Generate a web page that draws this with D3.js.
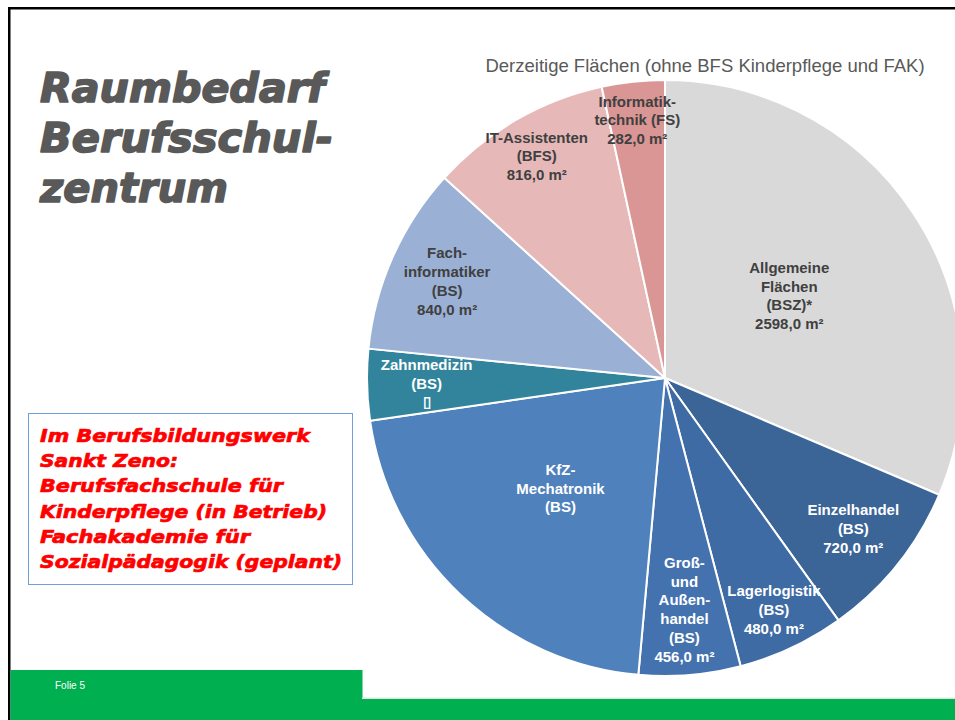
<!DOCTYPE html>
<html>
<head>
<meta charset="utf-8">
<script src="https://cdn.jsdelivr.net/npm/d3@7"></script>
<style>
  body { margin: 0; background: #fff; }
  svg { display: block; }
</style>
</head>
<body>
<div id="chart"></div>
<script>
const categories = [
  "Allgemeine Flächen (BSZ)*", "Einzelhandel (BS)", "Lagerlogistik (BS)",
  "Groß- und Außenhandel (BS)", "KfZ-Mechatronik (BS)", "Zahnmedizin (BS)",
  "Fachinformatiker (BS)", "IT-Assistenten (BFS)", "Informatiktechnik (FS)"
];
const labelLines = [
  ["Allgemeine", "Flächen", "(BSZ)*"],
  ["Einzelhandel", "(BS)"],
  ["Lagerlogistik", "(BS)"],
  ["Groß-", "und", "Außen-", "handel", "(BS)"],
  ["KfZ-", "Mechatronik", "(BS)"],
  ["Zahnmedizin", "(BS)"],
  ["Fach-", "informatiker", "(BS)"],
  ["IT-Assistenten", "(BFS)"],
  ["Informatik-", "technik (FS)"]
];
// m² je Bereich; KfZ und Zahnmedizin ohne Wertangabe in der Folie (geschätzt)
const areas = [2598, 720, 480, 456, 1760, 320, 840, 816, 282];
const valueOverride = { "KfZ-Mechatronik (BS)": null, "Zahnmedizin (BS)": "\u25AF" };

const titleLines = ["Raumbedarf", "Berufsschul-", "zentrum"];
const noteLines = [
  "Im Berufsbildungswerk", "Sankt Zeno:", "Berufsfachschule für",
  "Kinderpflege (in Betrieb)", "Fachakademie für", "Sozialpädagogik (geplant)"
];
const chartTitle = "Derzeitige Flächen (ohne BFS Kinderpflege und FAK)";

// Darstellung
const sliceColors = ["#d9d9d9", "#3b6497", "#3f6ba4", "#4372af", "#4f81bd",
                     "#31849b", "#9bb0d5", "#e6b9b8", "#d99694"];
const darkText = [true, false, false, false, false, false, true, true, true];
const labelRadius = [0.50, 0.81, 0.86, 0.78, 0.51, 0.80, 0.80, 0.86, 0.87];
const titleWidths = [285, 293, 188];
const noteWidths = [270, 138, 243, 287, 210, 302];

const W = 955, H = 720;
const svg = d3.select("#chart").append("svg")
  .attr("width", W).attr("height", H);

svg.append("rect").attr("width", W).attr("height", H).attr("fill", "#fff");

// Foliensrahmen
svg.append("rect").attr("x", 8).attr("y", 7).attr("width", W).attr("height", 2.5).attr("fill", "#000");
svg.append("rect").attr("x", 8).attr("y", 7).attr("width", 2.5).attr("height", H).attr("fill", "#000");

// Titel links
svg.append("g").selectAll("text")
  .data(titleLines)
  .join("text")
  .attr("x", 40)
  .attr("y", (d, i) => 102 + i * 50)
  .attr("textLength", (d, i) => titleWidths[i])
  .attr("lengthAdjust", "spacingAndGlyphs")
  .attr("font-family", "DejaVu Sans, sans-serif")
  .attr("font-weight", "bold")
  .attr("font-style", "italic")
  .attr("font-size", "41px")
  .attr("fill", "#595959")
  .attr("stroke", "#595959")
  .attr("stroke-width", 1.6)
  .attr("stroke-linejoin", "round")
  .text(d => d);

// Hinweisbox
svg.append("rect")
  .attr("x", 28.5).attr("y", 413.5).attr("width", 324).attr("height", 171)
  .attr("fill", "#fff").attr("stroke", "#6f9fd8").attr("stroke-width", 1);

svg.append("g").selectAll("text")
  .data(noteLines)
  .join("text")
  .attr("x", 40)
  .attr("y", (d, i) => 442 + i * 25.2)
  .attr("textLength", (d, i) => noteWidths[i])
  .attr("lengthAdjust", "spacingAndGlyphs")
  .attr("font-family", "DejaVu Sans, sans-serif")
  .attr("font-weight", "bold")
  .attr("font-style", "italic")
  .attr("font-size", "18.5px")
  .attr("fill", "#ff0000")
  .attr("stroke", "#ff0000")
  .attr("stroke-width", 0.7)
  .attr("stroke-linejoin", "round")
  .text(d => d);

// Kreisdiagramm
const cx = 665, cy = 378, R = 298;
const data = categories.map((c, i) => ({ name: c, value: areas[i], i }));

const pie = d3.pie().value(d => d.value).sort(null);
const arc = d3.arc().innerRadius(0).outerRadius(R);
const arcs = pie(data);

const g = svg.append("g").attr("transform", `translate(${cx},${cy})`);

g.selectAll("path")
  .data(arcs)
  .join("path")
  .attr("d", arc)
  .attr("fill", d => sliceColors[d.data.i])
  .attr("stroke", "#fff")
  .attr("stroke-width", 2)
  .attr("stroke-linejoin", "round");

const fmt = d3.formatLocale({ decimal: ",", thousands: ".", grouping: [3], currency: ["", "€"] }).format(".1f");

const lh = 18.8;
arcs.forEach(a => {
  const i = a.data.i;
  const mid = (a.startAngle + a.endAngle) / 2;
  const r = R * labelRadius[i];
  const lx = Math.sin(mid) * r, ly = -Math.cos(mid) * r;
  const lines = labelLines[i].slice();
  const name = a.data.name;
  if (name in valueOverride) {
    if (valueOverride[name] !== null) lines.push(valueOverride[name]);
  } else {
    lines.push(fmt(a.data.value) + " m²");
  }
  g.append("text")
    .attr("text-anchor", "middle")
    .attr("font-family", "Liberation Sans, Arial, sans-serif")
    .attr("font-weight", "bold")
    .attr("font-size", "15px")
    .attr("fill", darkText[i] ? "#404040" : "#fff")
    .selectAll("tspan")
    .data(lines)
    .join("tspan")
    .attr("x", lx)
    .attr("y", (d, k) => ly + (k - (lines.length - 1) / 2) * lh)
    .attr("dy", "0.35em")
    .text(d => d);
});

// Diagrammtitel
svg.append("text")
  .attr("x", 705).attr("y", 72)
  .attr("text-anchor", "middle")
  .attr("font-family", "Liberation Sans, Arial, sans-serif")
  .attr("font-size", "18.5px")
  .attr("fill", "#595959")
  .text(chartTitle);

// Fußleiste
svg.append("rect").attr("x", 10.5).attr("y", 670).attr("width", 352).attr("height", 50).attr("fill", "#00b050");
svg.append("rect").attr("x", 362).attr("y", 699).attr("width", W - 362).attr("height", 21).attr("fill", "#00b050");
svg.append("rect").attr("x", 362).attr("y", 697.5).attr("width", W - 362).attr("height", 1.5).attr("fill", "#dfe6e2");
svg.append("text")
  .attr("x", 55).attr("y", 689)
  .attr("font-family", "Liberation Sans Narrow, Liberation Sans, Arial, sans-serif")
  .attr("font-size", "10px")
  .attr("fill", "#fff")
  .text("Folie 5");
</script>
</body>
</html>
